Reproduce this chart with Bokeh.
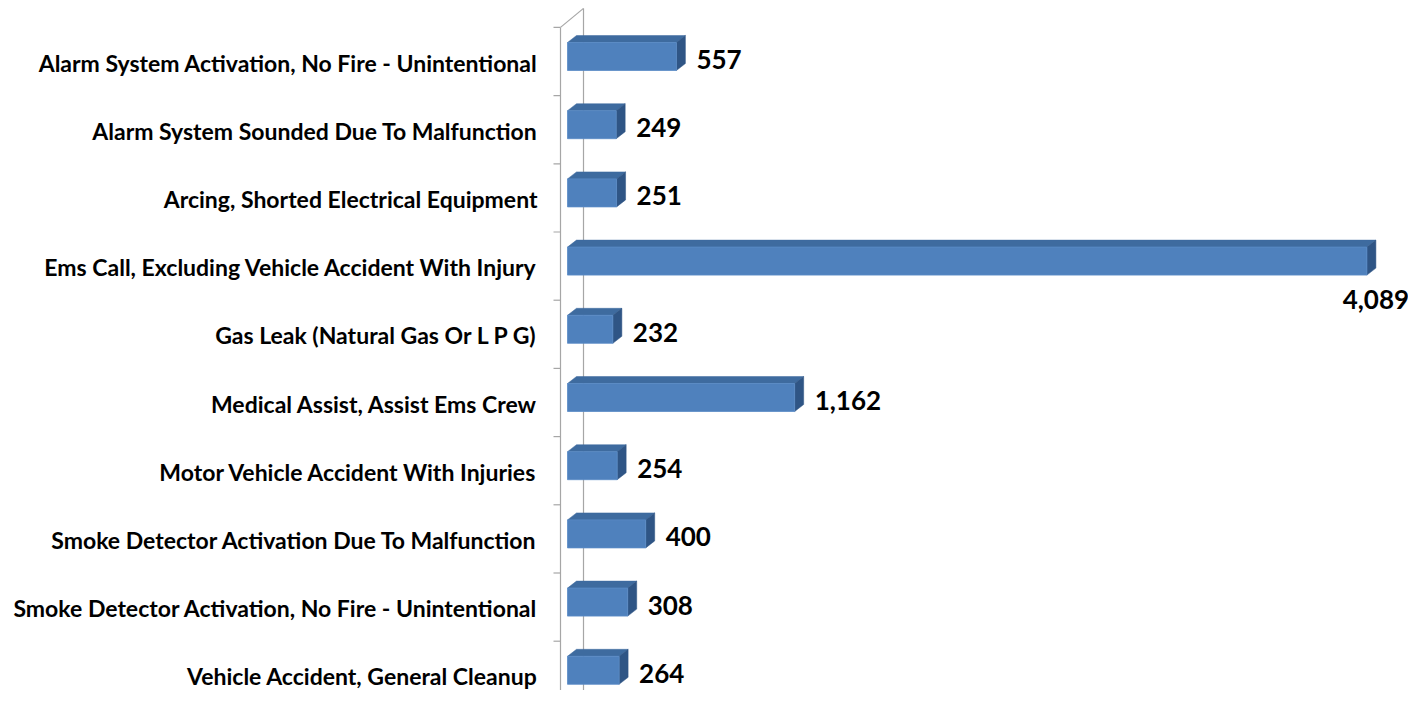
from bokeh.plotting import figure
from bokeh.models import Range1d, ColumnDataSource
from bokeh.core.properties import value
from bokeh.embed import file_html
from bokeh.resources import INLINE

categories = [
    "Alarm System Activation, No Fire - Unintentional",
    "Alarm System Sounded Due To Malfunction",
    "Arcing, Shorted Electrical Equipment",
    "Ems Call, Excluding Vehicle Accident With Injury",
    "Gas Leak (Natural Gas Or L P G)",
    "Medical Assist, Assist Ems Crew",
    "Motor Vehicle Accident With Injuries",
    "Smoke Detector Activation Due To Malfunction",
    "Smoke Detector Activation, No Fire - Unintentional",
    "Vehicle Accident, General Cleanup",
]
counts = [557, 249, 251, 4089, 232, 1162, 254, 400, 308, 264]

# ---- layout (pixels) ----
W, H = 1408, 690
SX = 0.1955          # px per count
ZERO_PX = 567        # canvas x of value 0
ROW = 68.2           # px per category
ROW0 = 61            # canvas y of first category centre

def dx(px):
    return px / SX

def dy(px):
    return px / ROW

x_start = -ZERO_PX / SX
x_end = (W - ZERO_PX) / SX
y_top = -ROW0 / ROW
y_bot = (H - ROW0) / ROW

p = figure(width=W, height=H, x_range=Range1d(x_start, x_end),
           y_range=Range1d(y_bot, y_top), x_axis_type=None, y_axis_type=None,
           toolbar_location=None, output_backend="svg", min_border=0)
p.grid.visible = False
p.outline_line_color = None
p.background_fill_color = "white"
p.border_fill_color = "white"

WALL = "#A6A6A6"
front_x = dx(-7)
back_x = dx(16)
depth_y = dy(19)
n = len(categories)
top_i = -0.5
bot_i = n - 0.5
# wall lines
p.segment(x0=[front_x, back_x, front_x, front_x], y0=[top_i, top_i - depth_y, top_i, bot_i],
          x1=[front_x, back_x, back_x, back_x], y1=[bot_i + 1, bot_i - depth_y, top_i - depth_y, bot_i - depth_y],
          line_color=WALL, line_width=1.2)
# ticks
ticks = [k - 0.5 for k in range(n + 1)]
p.segment(x0=[dx(-14)] * len(ticks), y0=ticks, x1=[front_x] * len(ticks), y1=ticks,
          line_color=WALL, line_width=1.2)

# bars
ys = list(range(n))
yc = [y - dy(5) for y in ys]
hh = dy(14)
bdx = dx(9)
bdy = dy(7)
FRONT = "#4F81BD"
TOP = "#3E6B9F"
SIDE = "#2F5585"

top_xs, top_ys, side_xs, side_ys = [], [], [], []
for v, c in zip(counts, yc):
    yt, yb = c - hh, c + hh
    top_xs.append([0, v, v + bdx, bdx])
    top_ys.append([yt, yt, yt - bdy, yt - bdy])
    side_xs.append([v, v + bdx, v + bdx, v])
    side_ys.append([yt, yt - bdy, yb - bdy, yb])

p.patches(xs=top_xs, ys=top_ys, fill_color=TOP, line_color=TOP, line_width=0.5)
p.patches(xs=side_xs, ys=side_ys, fill_color=SIDE, line_color=SIDE, line_width=0.5)
p.quad(left=[0] * n, right=counts, top=[c - hh for c in yc], bottom=[c + hh for c in yc],
       fill_color=FRONT, line_color="#5B8CC6", line_width=0.8)

# category labels
p.text(x=[dx(-30)] * n, y=[y + dy(1) for y in ys], text=categories,
       text_font=value("Lato"), text_font_style="bold", text_font_size="23px",
       text_align="right", text_baseline="middle", text_color="black")

# value labels
lab = ["{:,}".format(v) for v in counts]
inside = [v + bdx + dx(95) < x_end for v in counts]
lx, ly, la = [], [], []
for v, c, ok in zip(counts, yc, inside):
    if ok:
        lx.append(v + bdx + dx(11)); ly.append(c + dy(3)); la.append("left")
    else:
        lx.append(v + bdx); ly.append(c + dy(38)); la.append("center")
src = ColumnDataSource(dict(x=lx, y=ly, t=lab, a=la))
p.text(x="x", y="y", text="t", text_align="a", source=src,
       text_font=value("Lato"), text_font_style="bold", text_font_size="26px",
       text_baseline="middle", text_color="black")

open("out.html", "w").write(file_html(p, INLINE))
